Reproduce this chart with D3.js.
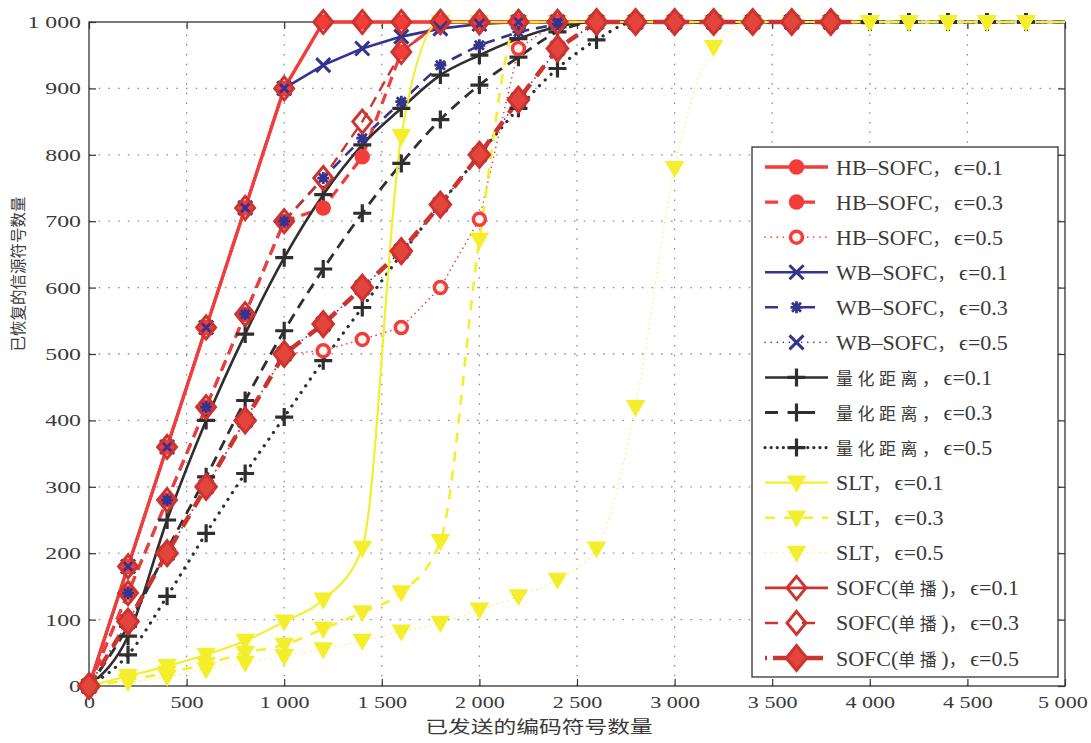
<!DOCTYPE html>
<html>
<head>
<meta charset="utf-8">
<script src="https://cdn.jsdelivr.net/npm/d3@7"></script>
<style>
  html, body { margin: 0; padding: 0; background: #ffffff; }
  svg { display: block; }
</style>
</head>
<body>
<svg id="chart" width="1091" height="743"></svg>
<script>
// Number of coded symbols sent (x positions of the samples)
const sentSymbols = [0,200,400,600,800,1000,1200,1400,1600,1800,2000,2200,2400,2600,2800,3000,3200,3400,3600,3800,4000,4200,4400,4600,4800,5000];

// Recovered source symbols for each scheme
const hb01 = [0,180,360,540,720,900,1000,1000,1000,1000,1000,1000,1000,1000,1000,1000,1000,1000,1000,1000,1000];
const hb03 = [0,140,280,420,560,700,720,797,955,1000,1000,1000,1000,1000,1000,1000,1000,1000,1000,1000,1000];
const hb05 = [0,97,200,300,400,500,505,522,540,600,703,960,1000,1000,1000,1000,1000,1000,1000,1000,1000];
const wb01 = [0,180,360,540,720,900,935,960,978,990,997,1000,1000,1000,1000,1000,1000,1000,1000,1000,1000];
const wb03 = [0,140,280,420,560,700,765,825,880,935,965,985,997,1000,1000,1000,1000,1000,1000,1000,1000];
const wb05 = [0,97,200,300,400,500,545,600,655,725,800,883,960,1000,1000,1000,1000,1000,1000,1000,1000];
const quant01 = [0,75,250,400,530,645,740,815,870,920,950,975,993,1000,1000,1000,1000,1000,1000,1000,1000,1000,1000,1000,1000,1000];
const quant03 = [0,90,205,315,430,535,628,712,787,853,905,947,985,1000,1000,1000,1000,1000,1000,1000,1000,1000,1000,1000,1000,1000];
const quant05 = [0,47,135,230,320,405,490,570,650,725,800,870,930,973,1000,1000,1000,1000,1000,1000,1000,1000,1000,1000,1000,1000];
const slt01 = [0,15,30,47,68,97,130,208,828,1000,1000,1000,1000,1000,1000,1000,1000,1000,1000,1000,1000,1000,1000,1000,1000,1000];
const slt03 = [0,9,20,33,50,62,86,111,141,218,672,1000,1000,1000,1000,1000,1000,1000,1000,1000,1000,1000,1000,1000,1000,1000];
const slt05 = [0,6,14,25,35,45,55,68,82,95,115,135,160,207,420,780,962,1000,1000,1000,1000,1000,1000,1000,1000,1000];
const sofc01 = [0,180,360,540,720,900,1000,1000,1000,1000,1000,1000,1000,1000,1000,1000,1000,1000,1000,1000,1000];
const sofc03 = [0,140,280,420,560,700,765,850,955,1000,1000,1000,1000,1000,1000,1000,1000,1000,1000,1000,1000];
const sofc05 = [0,97,200,300,400,500,545,600,655,725,800,883,960,1000,1000,1000,1000,1000,1000,1000,1000];

// Axis ticks and labels
const xTickValues = [0,500,1000,1500,2000,2500,3000,3500,4000,4500,5000];
const xTickLabels = ["0","500","1 000","1 500","2 000","2 500","3 000","3 500","4 000","4 500","5 000"];
const yTickValues = [0,100,200,300,400,500,600,700,800,900,1000];
const yTickLabels = ["0","100","200","300","400","500","600","700","800","900","1 000"];

const xTitle = "已发送的编码符号数量";
const yTitle = "已恢复的信源符号数量";

const legendLabels = [
  "HB–SOFC，ϵ=0.1", "HB–SOFC，ϵ=0.3", "HB–SOFC，ϵ=0.5",
  "WB–SOFC，ϵ=0.1", "WB–SOFC，ϵ=0.3", "WB–SOFC，ϵ=0.5",
  "量化距离，ϵ=0.1", "量化距离，ϵ=0.3", "量化距离，ϵ=0.5",
  "SLT，ϵ=0.1", "SLT，ϵ=0.3", "SLT，ϵ=0.5",
  "SOFC(单播)，ϵ=0.1", "SOFC(单播)，ϵ=0.3", "SOFC(单播)，ϵ=0.5"
];

// Colours
const RED = "#f23d3a";
const BLUE = "#34348f";
const GREY = "#2f2f2f";
const YELLOW = "#f4ee2c";
const YELLOW_LIGHT = "#f6f27e";
const DARKRED = "#cc342f";

const SOLID = null, DASH = "11,7", DASHDOT = "13,5,0.1,5";

const series = [
  { values: hb01, color: RED, width: 3.4, dash: SOLID, marker: "circle", fill: RED, mw: 1.5, size: 7 },
  { values: hb03, color: RED, width: 3.2, dash: DASH, marker: "circle", fill: RED, mw: 1.5, size: 7 },
  { values: hb05, color: RED, width: 1.6, dash: "0.1,5", marker: "circle", fill: "#fff6f0", mw: 3.5, size: 6 },
  { values: wb01, color: BLUE, width: 2.6, dash: SOLID, marker: "x", fill: "none", mw: 3, size: 7 },
  { values: wb03, color: BLUE, width: 2.6, dash: DASH, marker: "star", fill: "none", mw: 2.8, size: 6 },
  { values: wb05, color: BLUE, width: 1.6, dash: "0.1,5", marker: "x", fill: "none", mw: 3, size: 7 },
  { values: quant01, color: GREY, width: 2.6, dash: SOLID, marker: "plus", fill: "none", mw: 3.2, size: 9, smooth: true },
  { values: quant03, color: GREY, width: 2.8, dash: DASH, marker: "plus", fill: "none", mw: 3.2, size: 9, smooth: true },
  { values: quant05, color: GREY, width: 3.2, dash: "0.1,8", marker: "plus", fill: "none", mw: 3.2, size: 9, smooth: true },
  { values: slt01, color: YELLOW, width: 2.2, dash: SOLID, marker: "tri", fill: YELLOW, mw: 1.5, size: 8.5, smooth: true },
  { values: slt03, color: YELLOW, width: 2.6, dash: "10,9", marker: "tri", fill: YELLOW, mw: 1.5, size: 8.5, smooth: true },
  { values: slt05, color: YELLOW_LIGHT, width: 1.6, dash: "0.1,5", marker: "tri", fill: YELLOW, mw: 1.5, size: 8.5, smooth: true },
  { values: sofc01, color: DARKRED, width: 2.6, dash: SOLID, marker: "diamond", fill: "none", mw: 3, size: 11.5 },
  { values: sofc03, color: DARKRED, width: 2.4, dash: DASH, marker: "diamond", fill: "none", mw: 3, size: 11.5 },
  { values: sofc05, color: DARKRED, width: 4.5, dash: DASHDOT, marker: "diamond", fill: "#e3443c", mw: 3, size: 12.5 }
];

// Stacking (bottom to top) of the curves and of the marker groups
const lineOrder = [3, 4, 5, 12, 13, 0, 1, 2, 6, 7, 8, 9, 10, 11, 14];
const markerOrder = [6, 7, 8, 9, 10, 11, 0, 1, 2, 3, 4, 5, 12, 13, 14];

const svg = d3.select("#chart");
const plot = { left: 89, right: 1065, top: 22, bottom: 686 };

const x = d3.scaleLinear().domain([0, 5000]).range([plot.left, plot.right]);
const y = d3.scaleLinear().domain([0, 1000]).range([plot.bottom, plot.top]);

// Background
svg.append("rect").attr("width", 1091).attr("height", 743).attr("fill", "#ffffff");

// Dotted grid
const grid = svg.append("g").attr("stroke", "#8a8a8a").attr("stroke-width", 1.3)
  .attr("stroke-dasharray", "1.5,8.2");
grid.selectAll("line.gx").data(xTickValues.slice(1, -1)).join("line")
  .attr("x1", d => x(d)).attr("x2", d => x(d))
  .attr("y1", plot.bottom).attr("y2", plot.top);
grid.selectAll("line.gy").data(yTickValues.slice(1, -1)).join("line")
  .attr("y1", d => y(d)).attr("y2", d => y(d))
  .attr("x1", plot.left).attr("x2", plot.right);

// Axes with inward ticks on all four sides
const TICK_FONT = "'Liberation Serif', 'Times New Roman', serif";
const STRETCH_X = 1.3, STRETCH_Y = 1.4;
const axB = svg.append("g").attr("transform", `translate(0,${plot.bottom})`)
  .call(d3.axisBottom(x).tickValues(xTickValues).tickSizeInner(-7).tickSizeOuter(0).tickPadding(10)
    .tickFormat((d, i) => xTickLabels[i]));
const axL = svg.append("g").attr("transform", `translate(${plot.left},0)`)
  .call(d3.axisLeft(y).tickValues(yTickValues).tickSizeInner(-7).tickSizeOuter(0).tickPadding(8)
    .tickFormat((d, i) => yTickLabels[i]));
const axT = svg.append("g").attr("transform", `translate(0,${plot.top})`)
  .call(d3.axisTop(x).tickValues(xTickValues).tickSizeInner(-7).tickSizeOuter(0).tickFormat(""));
const axR = svg.append("g").attr("transform", `translate(${plot.right},0)`)
  .call(d3.axisRight(y).tickValues(yTickValues).tickSizeInner(-7).tickSizeOuter(0).tickFormat(""));

[axB, axL, axT, axR].forEach(a => {
  a.select(".domain").remove();
  a.selectAll(".tick line").attr("stroke", "#333").attr("stroke-width", 1.2);
  a.selectAll("text").attr("font-family", TICK_FONT).attr("font-size", 17).attr("fill", "#3a3a3a");
});
axB.selectAll(".tick text").attr("transform", `scale(${STRETCH_X},1)`);
// keep the last label inside the canvas
axB.selectAll(".tick text").filter(d => d === 5000).attr("x", -2);
axL.selectAll(".tick text").attr("x", -8 / STRETCH_Y).attr("transform", `scale(${STRETCH_Y},1)`);

// Plot frame
svg.append("rect")
  .attr("x", plot.left).attr("y", plot.top)
  .attr("width", plot.right - plot.left).attr("height", plot.bottom - plot.top)
  .attr("fill", "none").attr("stroke", "#333").attr("stroke-width", 1.3);

// Marker shapes
function markerPath(type, s) {
  switch (type) {
    case "circle":
      return `M${s},0A${s},${s} 0 1,1 ${-s},0A${s},${s} 0 1,1 ${s},0Z`;
    case "x":
      return `M${-s},${-s}L${s},${s}M${-s},${s}L${s},${-s}`;
    case "star": {
      const d = s * 0.75;
      return `M${-d},${-d}L${d},${d}M${-d},${d}L${d},${-d}M${-s},0L${s},0M0,${-s}L0,${s}`;
    }
    case "plus":
      return `M${-s},0L${s},0M0,${-s}L0,${s}`;
    case "tri":
      return `M${-s},${-s * 0.75}L${s},${-s * 0.75}L0,${s}Z`;
    case "diamond":
      return `M0,${-s}L${s * 0.82},0L0,${s}L${-s * 0.82},0Z`;
  }
}

function drawMarker(g, st, cx, cy) {
  g.append("path")
    .attr("d", markerPath(st.marker, st.size))
    .attr("transform", `translate(${cx},${cy})`)
    .attr("fill", st.fill)
    .attr("stroke", st.marker === "tri" ? YELLOW : st.color)
    .attr("stroke-width", st.mw)
    .attr("stroke-linejoin", "miter")
    .attr("stroke-linecap", "butt");
}

const points = st => st.values.map((v, i) => [sentSymbols[i], v]);

// Curves
const lineLayer = svg.append("g");
lineOrder.forEach(k => {
  const st = series[k];
  const line = d3.line()
    .x(d => x(d[0])).y(d => y(d[1]))
    .curve(st.smooth ? d3.curveMonotoneX : d3.curveLinear);
  lineLayer.append("path")
    .attr("d", line(points(st)))
    .attr("fill", "none")
    .attr("stroke", st.color)
    .attr("stroke-width", st.width)
    .attr("stroke-dasharray", st.dash)
    .attr("stroke-linecap", st.dash && st.dash.startsWith("0.1") ? "round" : "butt")
    .attr("stroke-linejoin", "round");
});

// Markers on every sample except the closing one
const markerLayer = svg.append("g");
markerOrder.forEach(k => {
  const st = series[k];
  const g = markerLayer.append("g");
  points(st).slice(0, -1).forEach(p => drawMarker(g, st, x(p[0]), y(p[1])));
});

// Legend
const LEG_X = 752, LEG_Y = 147, LEG_W = 306, LEG_H = 530;
const legend = svg.append("g");
legend.append("rect")
  .attr("x", LEG_X).attr("y", LEG_Y).attr("width", LEG_W).attr("height", LEG_H)
  .attr("fill", "#ffffff").attr("stroke", "#333").attr("stroke-width", 1.3);

const rowY = d3.scaleLinear().domain([0, 14]).range([167, 658]);
const cjk = /([\u3000-\u303f\u4e00-\u9fff\uff00-\uffef]+)/;

series.forEach((st, i) => {
  const cy = rowY(i);
  legend.append("line")
    .attr("x1", 765).attr("x2", 828).attr("y1", cy).attr("y2", cy)
    .attr("stroke", st.color)
    .attr("stroke-width", st.width)
    .attr("stroke-dasharray", st.dash === DASH ? "13,24" : st.dash === DASHDOT ? "2,6,50,6,2" : st.dash && st.dash.startsWith("0.1") ? "0.1,6" : st.dash)
    .attr("stroke-linecap", st.dash && st.dash.startsWith("0.1") ? "round" : "butt");
  drawMarker(legend, st, 796.5, cy);

  const t = legend.append("text")
    .attr("x", 836).attr("y", cy + 7.5)
    .attr("font-family", TICK_FONT).attr("font-size", 22).attr("fill", "#3a3a3a");
  legendLabels[i].split(cjk).filter(s => s.length).forEach(part => {
    const ts = t.append("tspan").text(part);
    if (cjk.test(part)) {
      ts.attr("font-family", "'Noto Sans CJK SC', sans-serif")
        .attr("font-size", 17).attr("letter-spacing", 4.5);
    }
  });
});

// Axis titles
svg.append("text")
  .attr("transform", "translate(539,733) scale(1.3,1)")
  .attr("text-anchor", "middle")
  .attr("font-family", "'Noto Sans CJK SC', sans-serif")
  .attr("font-size", 17.5).attr("fill", "#3a3a3a")
  .text(xTitle);

svg.append("text")
  .attr("transform", "translate(24,274) rotate(-90)")
  .attr("text-anchor", "middle")
  .attr("font-family", "'Noto Sans CJK SC', sans-serif")
  .attr("font-size", 15.5).attr("fill", "#3a3a3a")
  .text(yTitle);
</script>
</body>
</html>
